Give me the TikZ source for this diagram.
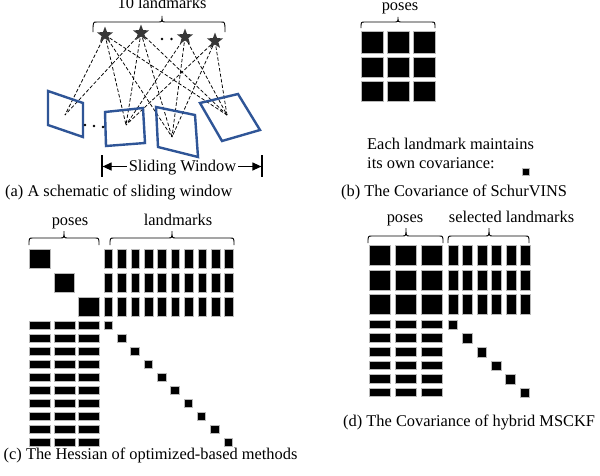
\documentclass[tikz,border=0pt]{standalone}
\usepackage{fontspec}
\setmainfont{Liberation Serif}
\usetikzlibrary{shapes.geometric,arrows.meta,backgrounds}
\definecolor{frameblue}{RGB}{47,85,151}
\definecolor{stargray}{RGB}{55,55,55}
\newcommand{\mybrace}[6]{\draw[bracestyle] (#1,#4) .. controls (#1,#5) .. (#1+4,#5) -- (#3-4,#5) .. controls (#3,#5) .. (#3,#6) .. controls (#3,#5) .. (#3+4,#5) -- (#2-4,#5) .. controls (#2,#5) .. (#2,#4);}
\tikzset{
 txt/.style={font=\fontsize{16.4}{19}\selectfont, inner sep=0pt, anchor=base},
 captxt/.style={txt, anchor=base west},
 blk/.style={fill=black, draw=gray!55, line width=0.4pt},
 framebox/.style={draw=frameblue, line width=2.4pt, line join=miter},
 ray/.style={dash pattern=on 3.5pt off 2pt, line width=0.75pt},
 bracestyle/.style={line width=0.9pt},
 lm/.style={star, star points=5, star point ratio=2.4, fill=stargray, minimum size=17pt, inner sep=0pt},
 bar/.style={line width=1.2pt},
 dimarrow/.style={-{Triangle[length=9pt,width=8pt]}, line width=1.2pt}
}
\begin{document}
\begin{tikzpicture}[x=1pt,y=-1pt]
\useasboundingbox (0,0) rectangle (600,475);
% ---------------- (a) ----------------
\node[txt] (t10) at (162,8) {10 landmarks};
\mybrace{93}{225}{162}{32}{22}{16}
\node[lm] (s1) at (105,35) {};
\node[lm] (s2) at (141,33) {};
\node[lm] (s3) at (185,37) {};
\node[lm] (s4) at (215,41) {};
\fill (162,39) circle (1.3pt) (171.5,39) circle (1.3pt);
\draw[framebox] (48,91) -- (83,103) -- (83,137) -- (48,125) -- cycle;
\draw[framebox] (105,112) -- (143,108) -- (145,143) -- (106,146) -- cycle;
\draw[framebox] (156,107) -- (195,115) -- (198,157) -- (158,147) -- cycle;
\draw[framebox] (200,103) -- (238,94) -- (260,130) -- (222,141) -- cycle;
\coordinate (f1) at (65,115);
\coordinate (f2) at (126,125);
\coordinate (f3) at (172,137);
\coordinate (f4) at (227,115);
\fill (85,125) circle (1.3pt) (94,126) circle (1.3pt) (103,127) circle (1.3pt);
\begin{scope}[on background layer]
\fill[white] (0,0) rectangle (600,475);
\foreach \s/\f in {s1/f1,s2/f1,s1/f2,s2/f2,s3/f2,s4/f2,s1/f3,s2/f3,s3/f3,s4/f3,s1/f4,s2/f4,s3/f4,s4/f4}
  \draw[ray] (\s.center) -- (\f);
\end{scope}
\coordinate (wl1) at (102,155); \coordinate (wl2) at (102,177);
\coordinate (wr1) at (262,155); \coordinate (wr2) at (262,177);
\draw[bar] (wl1) -- (wl2);
\draw[bar] (wr1) -- (wr2);
\coordinate (wlm) at (102.6,166.5); \coordinate (wrm) at (261.4,166.5);
\node[txt, inner xsep=2pt] (sw) at (182.5,171.5) {Sliding Window};
\draw[dimarrow] (sw.west |- wlm) -- (wlm);
\draw[dimarrow] (sw.east |- wrm) -- (wrm);
\node[captxt] (capa) at (5,196) {(a) A schematic of sliding window};
% ---------------- (b) ----------------
\node[txt] (tpb) at (400,10) {poses};
\mybrace{361}{435}{398}{28}{22}{17}
\foreach \x in {361,387,413}
  \foreach \y/\h in {31/22,57/20.5,81/20.5}
    \fill[blk] (\x,\y) rectangle ++(22,\h);
\node[captxt] (e1) at (367,149) {Each landmark maintains};
\node[captxt] (e2) at (367,168) {its own covariance:};
\fill[blk] (522,168) rectangle (529,175);
\node[captxt] (capb) at (341,196) {(b) The Covariance of SchurVINS};
% ---------------- (c) ----------------
\node[txt] (tpc) at (70,225) {poses};
\node[txt] (tlc) at (178,225) {landmarks};
\mybrace{29}{99}{64}{245}{238}{231}
\mybrace{110}{234}{172}{245}{238}{231}
\fill[blk] (29,249) rectangle (50,268);
\fill[blk] (54,273) rectangle (74,292);
\fill[blk] (78,297) rectangle (99,316);
\foreach \i in {0,...,9}{
  \foreach \y in {249,273,297}
    \fill[blk] (104+13.4*\i,\y) rectangle ++(8.6,19);
  \fill[blk] (104+13.3*\i,321+13*\i) rectangle ++(8.5,8.5);
  \foreach \x in {29,54,78}
    \fill[blk] (\x,321+13*\i) rectangle ++(21,8.2);
}
\node[captxt] (capc) at (3.5,459) {(c) The Hessian of optimized-based methods};
% ---------------- (d) ----------------
\node[txt] (tpd) at (405,222) {poses};
\node[txt] (tld) at (511.5,222) {selected landmarks};
\mybrace{368}{443}{406}{243}{236}{228}
\mybrace{448}{529}{489}{243}{236}{228}
\foreach \x in {369,395,421}
  \foreach \y in {245,270,294}
    \fill[blk] (\x,\y) rectangle ++(21.5,20);
\foreach \i in {0,...,5}{
  \foreach \y in {245,270,294}
    \fill[blk] (448+14.5*\i,\y) rectangle ++(10,20);
  \fill[blk] (448+14.4*\i,320+13.6*\i) rectangle ++(9.5,9.5);
  \foreach \x in {369,395,421}
    \fill[blk] (\x,320+13.6*\i) rectangle ++(21.5,8.5);
}
\node[captxt] (capd) at (343,426) {(d) The Covariance of hybrid MSCKF};
\end{tikzpicture}
\end{document}
